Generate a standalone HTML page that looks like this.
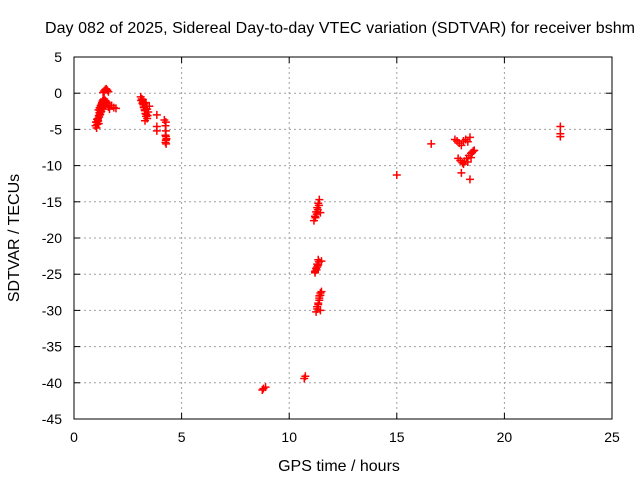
<!DOCTYPE html>
<html><head><meta charset="utf-8"><style>body{margin:0;background:#fff}svg{display:block;font-family:"Liberation Sans",sans-serif}</style></head>
<body>
<svg id="c" width="640" height="480">
<rect width="640" height="480" fill="#fff"/>
<text x="340" y="33" font-size="16" text-anchor="middle" textLength="590">Day 082 of 2025, Sidereal Day-to-day VTEC variation (SDTVAR) for receiver bshm</text>
<text x="339" y="471" font-size="16" text-anchor="middle">GPS time / hours</text>
<text transform="translate(19,238) rotate(-90)" font-size="16" text-anchor="middle">SDTVAR / TECUs</text>
<g id="grid"></g><g id="pts"></g>
<rect x="74" y="57" width="538" height="362" fill="none" stroke="#000"/>
</svg>
<script>
const xTicks=[0,5,10,15,20,25];
const yTicks=[5,0,-5,-10,-15,-20,-25,-30,-35,-40,-45];
const hours=[1.05,1.08,1.1,1.12,1.15,1.18,1.2,1.22,1.25,1.28,1.3,1.33,1.36,1.4,1.45,1.5,1.55,1.05,1.1,1.15,1.2,1.25,1.3,1.38,1.42,1.48,1.35,1.4,1.45,1.5,1.55,1.6,1.75,1.85,1.95,
1.0,1.02,1.07,1.12,1.17,1.22,1.27,1.32,1.37,1.42,1.47,1.14,1.19,1.24,1.29,1.34,1.39,1.44,1.52,1.6,1.65,
3.1,3.15,3.2,3.22,3.25,3.3,3.32,3.35,3.4,3.45,3.5,3.2,3.3,3.4,3.85,3.85,3.85,4.2,4.25,4.25,4.3,4.25,4.28,
3.12,3.18,3.24,3.28,3.36,3.42,3.26,3.34,4.27,4.27,4.27,4.27,
8.75,8.8,8.9,10.7,10.75,
11.15,11.2,11.25,11.3,11.35,11.4,11.45,11.2,11.3,11.5,11.2,11.25,11.3,11.35,11.4,11.45,11.25,11.3,11.35,11.4,11.45,11.5,11.3,
11.22,11.28,11.33,11.38,11.27,11.33,11.38,11.35,11.4,11.45,
15,16.6,17.7,17.8,17.9,18,18.1,18.2,18.3,18.4,17.85,17.95,18.05,18.15,18.25,18.35,18.45,18.55,18.1,18.3,18.45,18.5,18.6,18.0,18.4,22.6,22.6,22.6];
const sdtvar=[-4.8,-4.3,-3.9,-3.5,-3.1,-2.7,-2.4,-2.1,-1.8,-1.5,-1.3,-1.1,-0.9,-0.8,-1.0,-1.2,-1.5,-4.0,-3.6,-4.2,-3.0,-2.6,-2.2,-1.9,-1.6,-1.3,0.1,0.3,0.5,0.6,0.4,0.2,-1.7,-2.0,-2.1,
-4.5,-4.0,-3.6,-3.8,-3.3,-2.9,-2.5,-2.1,-1.8,-1.4,-1.1,-2.3,-2.0,-1.7,-1.6,-1.4,-1.2,-1.5,-1.3,-1.9,-2.2,
-0.5,-0.8,-1.2,-1.6,-2.0,-2.4,-2.8,-3.2,-3.5,-2.6,-1.8,-0.9,-3.8,-2.2,-3.0,-4.6,-5.2,-3.7,-4.5,-5.8,-6.3,-6.8,-7.0,
-1.0,-1.4,-1.9,-2.3,-2.9,-3.1,-1.5,-1.3,-5.2,-6.0,-6.5,-4.0,
-41.0,-40.8,-40.6,-39.4,-39.1,
-17.6,-17.0,-16.4,-15.8,-15.2,-14.7,-16.5,-24.8,-24.0,-23.2,-24.6,-24.2,-23.6,-23.0,-28.0,-30.0,-30.2,-29.5,-29.0,-28.3,-27.6,-27.4,-29.8,
-17.2,-16.7,-16.1,-15.5,-24.4,-23.8,-23.3,-29.2,-28.6,-27.9,
-11.3,-7.0,-6.4,-6.6,-6.9,-7.2,-6.6,-6.4,-6.7,-6.1,-9.0,-9.3,-9.6,-9.4,-9.0,-8.6,-8.3,-8.0,-9.8,-9.5,-8.9,-8.2,-7.9,-11.0,-11.9,-4.6,-5.6,-6.0];
const X=v=>74+v*538/25, Y=v=>57+(5-v)*362/50;
const NS="http://www.w3.org/2000/svg";
const svg=document.getElementById('c'),g=document.getElementById('grid'),p=document.getElementById('pts');
function mk(t,a,par){const e=document.createElementNS(NS,t);for(const k in a)e.setAttribute(k,a[k]);par.appendChild(e);return e;}
xTicks.forEach(v=>{const x=X(v);
 if(v>0&&v<25){const l=mk('line',{x1:x,y1:57,x2:x,y2:419,stroke:'#a0a0a0','stroke-dasharray':'2,3'},g);
 
 }
 mk('line',{x1:x,y1:419,x2:x,y2:413,stroke:'#000'},g);mk('line',{x1:x,y1:57,x2:x,y2:63,stroke:'#000'},g);
 const t=mk('text',{x:x,y:442,'font-size':14,'text-anchor':'middle'},g);t.textContent=v;
 
 });
yTicks.forEach(v=>{const y=Y(v);
 if(v<5&&v>-45){const l=mk('line',{x1:74,y1:y,x2:612,y2:y,stroke:'#a0a0a0','stroke-dasharray':'2,3'},g);
 
 }
 mk('line',{x1:74,y1:y,x2:80,y2:y,stroke:'#000'},g);mk('line',{x1:612,y1:y,x2:606,y2:y,stroke:'#000'},g);
 const t=mk('text',{x:62,y:y+5,'font-size':14,'text-anchor':'end'},g);t.textContent=v;
 
 });
hours.forEach((h,i)=>{const x=X(h),y=Y(sdtvar[i]);
 const e=mk('path',{d:`M${x-4} ${y}H${x+4}M${x} ${y-4}V${y+4}`,stroke:'#f00','stroke-width':1.5},p);
 
 });
</script>
</body></html>
